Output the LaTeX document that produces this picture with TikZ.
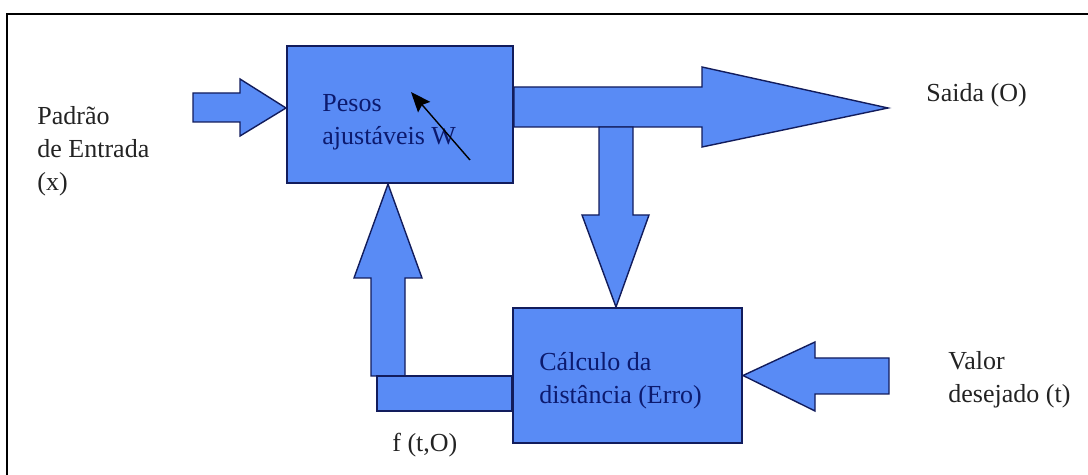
\documentclass[tikz,border=0pt]{standalone}
\usepackage{fontspec}
\setmainfont{Liberation Serif}
\usepackage{tikz}
\usetikzlibrary{positioning, arrows.meta, calc}

\definecolor{blockfill}{RGB}{89,139,245}
\definecolor{blockline}{RGB}{18,28,92}
\definecolor{blocktext}{RGB}{12,26,110}
\definecolor{plaintext}{RGB}{35,35,35}

\begin{document}
\begin{tikzpicture}[
  x=0.5pt, y=-0.5pt,
  font=\fontsize{13}{16.5}\selectfont,
  block/.style={draw=blockline, fill=blockfill, line width=1pt, inner sep=0pt},
  fatarrow/.style={draw=blockline, fill=blockfill, line width=0.7pt, line join=miter},
  txt/.style={text=plaintext, align=left, anchor=west, inner sep=0pt},
  btxt/.style={text=blocktext, align=left, anchor=west, inner sep=0pt},
  frame/.style={draw=black, line width=1pt},
]
  \useasboundingbox (0,0) rectangle (1088,475);
  \draw[frame] (7,475) -- (7,14) -- (1088,14);

  % Blocks
  \node[block, minimum width=113pt, minimum height=68.5pt] (pesos) at (400,114.5) {};
  \node[block, minimum width=114.5pt, minimum height=67.5pt] (calc) at (627.5,375.5) {};

  % Labels
  \node[txt]  (entrada) at (37,151)  {Padrão\\de Entrada\\(x)};
  \node[btxt] (pesostxt) at (322,122) {Pesos\\ajustáveis W};
  \node[txt]  (saida) at (926,95)    {Saida (O)};
  \node[btxt] (calctxt) at (539,381) {Cálculo da\\distância (Erro)};
  \node[txt]  (valor) at (948,380)   {Valor\\desejado (t)};
  \node[txt]  (fto) at (392,445)     {f (t,O)};

  % Adjustable weight arrow
  \coordinate (wTail) at (470,160);
  \coordinate (wTip) at (411,92);
  \draw[line width=0.7pt, -{Stealth[length=10pt, width=8pt, inset=1.5pt]}] (wTail) -- (wTip);

  % Input pattern -> weights
  \draw[fatarrow, shift={(pesos.west |- 0,108)}]
    (0,0) -- (-46,-29) -- (-46,-15) -- (-93,-15) -- (-93,14) -- (-46,14) -- (-46,28) -- cycle;

  % Weights -> output
  \coordinate (outTip) at (888,108);
  \draw[fatarrow] (pesos.east |- 0,87) -- (702,87) -- (702,67) -- (outTip)
    -- (702,147) -- (702,127) -- (pesos.east |- 0,127) -- cycle;

  % Output -> distance block
  \draw[fatarrow] (599,127) -- (599,215) -- (582,215) -- (616,0 |- calc.north)
    -- (649,215) -- (633,215) -- (633,127) -- cycle;

  % Desired value -> distance block
  \draw[fatarrow] (calc.east) -- (815,342) -- (815,358) -- (889,358)
    -- (889,394) -- (815,394) -- (815,411) -- cycle;

  % Feedback f(t,O) -> weights
  \draw[fatarrow] (371,376) -- (371,278) -- (354,278) -- (388,0 |- pesos.south)
    -- (422,278) -- (405,278) -- (405,376) -- cycle;
  \draw[fatarrow] (377,376) rectangle (calc.west |- 0,411);
\end{tikzpicture}
\end{document}
